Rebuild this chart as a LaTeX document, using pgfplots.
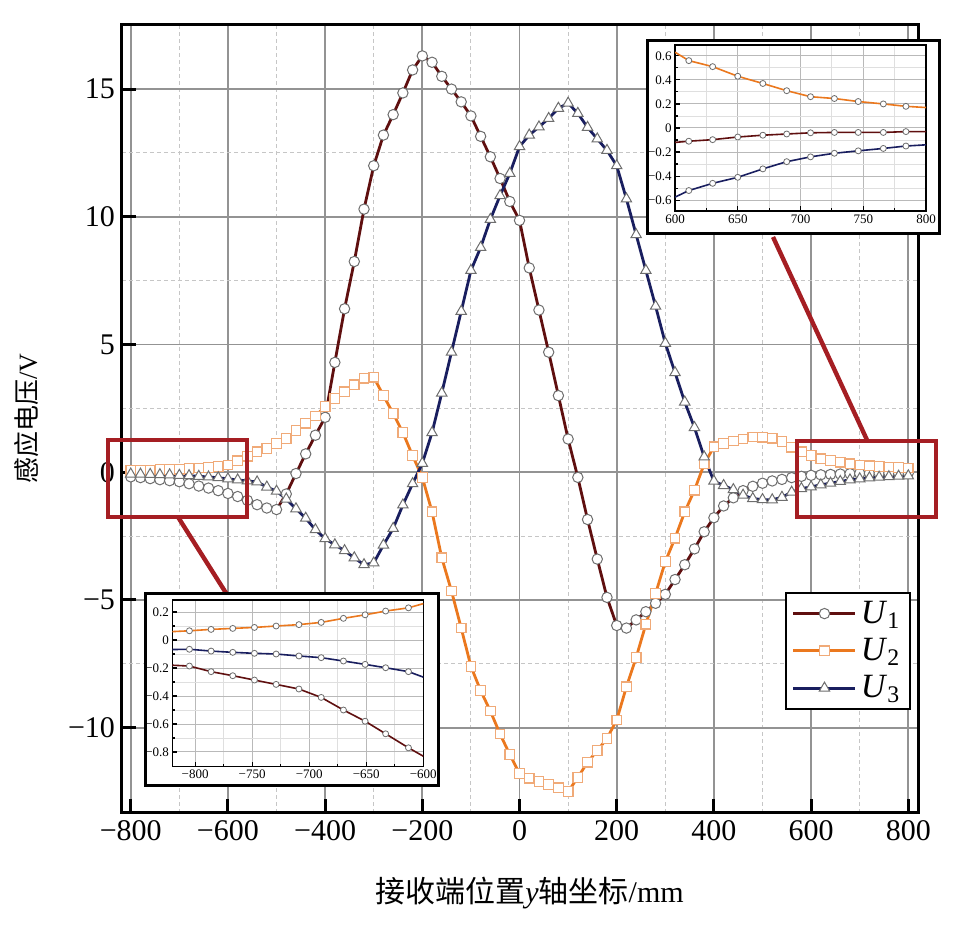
\documentclass[border=0pt]{standalone}
\usepackage{fontspec}
\setmainfont{Liberation Serif}
\newfontfamily\cjk{Noto Sans CJK SC}
\usepackage{pgfplots}
\usepackage{pgfplotstable}
\pgfplotsset{compat=1.18}

\definecolor{cUone}{RGB}{95,15,15}
\definecolor{cUtwo}{RGB}{235,120,30}
\definecolor{cUthree}{RGB}{25,30,95}
\definecolor{redbox}{RGB}{165,30,35}
\definecolor{mk}{RGB}{110,110,110}
\definecolor{mktwo}{RGB}{240,170,120}

\pgfplotstableread{
x u1 u2 u3
-800 -0.18 0.075 -0.07
-780 -0.21 0.08 -0.075
-760 -0.25 0.09 -0.085
-740 -0.29 0.10 -0.095
-720 -0.33 0.105 -0.10
-700 -0.37 0.12 -0.12
-680 -0.45 0.14 -0.135
-660 -0.54 0.165 -0.16
-640 -0.62 0.19 -0.185
-620 -0.72 0.225 -0.215
-600 -0.83 0.28 -0.26
-580 -0.95 0.45 -0.30
-560 -1.10 0.63 -0.34
-540 -1.27 0.80 -0.38
-520 -1.40 0.93 -0.58
-500 -1.46 1.13 -0.74
-480 -0.85 1.32 -1.05
-460 -0.05 1.63 -1.43
-440 0.72 1.92 -1.80
-420 1.45 2.20 -2.25
-400 2.15 2.57 -2.60
-380 4.30 2.88 -2.84
-360 6.40 3.15 -3.07
-340 8.25 3.42 -3.35
-320 10.30 3.68 -3.62
-300 12.00 3.72 -3.55
-280 13.20 3.00 -2.85
-260 14.00 2.30 -2.20
-240 14.85 1.55 -1.28
-220 15.75 0.65 -0.45
-200 16.30 -0.20 0.35
-180 16.05 -1.55 1.55
-160 15.50 -3.35 3.10
-140 15.00 -4.65 4.70
-120 14.50 -6.10 6.30
-100 13.95 -7.60 7.90
-80 13.15 -8.55 8.80
-60 12.35 -9.35 9.90
-40 11.50 -10.25 10.83
-20 10.60 -11.05 11.70
0 9.86 -11.80 12.75
20 8.00 -11.98 13.20
40 6.35 -12.10 13.52
60 4.70 -12.22 13.85
80 3.00 -12.35 14.25
100 1.30 -12.50 14.45
120 -0.20 -11.95 14.05
140 -1.85 -11.35 13.50
160 -3.40 -10.90 13.05
180 -4.90 -10.42 12.60
200 -6.00 -9.70 12.00
220 -6.10 -8.40 10.70
240 -5.78 -7.25 9.30
260 -5.46 -5.95 7.90
280 -5.13 -4.75 6.50
300 -4.78 -3.50 5.05
320 -4.20 -2.58 3.90
340 -3.62 -1.55 2.75
360 -3.00 -0.70 1.75
380 -2.33 0.32 0.60
400 -1.78 1.00 -0.35
420 -1.32 1.13 -0.52
440 -1.00 1.22 -0.68
460 -0.72 1.30 -0.90
480 -0.55 1.38 -1.03
500 -0.43 1.37 -1.07
520 -0.34 1.33 -1.08
540 -0.28 1.20 -0.98
560 -0.21 0.98 -0.78
580 -0.16 0.80 -0.64
600 -0.12 0.65 -0.575
620 -0.10 0.53 -0.49
640 -0.085 0.46 -0.43
660 -0.07 0.39 -0.36
680 -0.055 0.33 -0.30
700 -0.045 0.28 -0.255
720 -0.04 0.25 -0.22
740 -0.037 0.225 -0.195
760 -0.035 0.205 -0.175
780 -0.032 0.185 -0.155
800 -0.03 0.17 -0.14
}\maindata

\pgfplotstableread{
x u1 u2 u3
-820 -0.18 0.06 -0.068
-805 -0.186 0.066 -0.066
-786 -0.226 0.076 -0.079
-767 -0.255 0.083 -0.088
-748 -0.286 0.09 -0.095
-729 -0.317 0.10 -0.10
-709 -0.35 0.11 -0.114
-689.5 -0.41 0.126 -0.126
-670 -0.50 0.155 -0.15
-651 -0.58 0.18 -0.174
-633 -0.67 0.207 -0.198
-613 -0.77 0.23 -0.226
-600 -0.83 0.26 -0.265
}\leftdata

\pgfplotstableread{
x u1 u2 u3
600 -0.12 0.63 -0.575
611 -0.11 0.56 -0.52
630 -0.097 0.51 -0.46
650 -0.075 0.43 -0.41
670 -0.06 0.37 -0.34
689 -0.05 0.31 -0.28
708 -0.04 0.26 -0.24
727 -0.037 0.245 -0.21
746 -0.037 0.22 -0.19
766 -0.037 0.20 -0.17
784 -0.03 0.18 -0.15
800 -0.03 0.17 -0.14
}\rightdata

\pgfplotsset{
  insetstyle/.style={
    scale only axis,
    minor x tick num=1, minor y tick num=1,
    grid=both,
    major grid style={draw=gray!55, line width=0.5pt},
    minor grid style={draw=gray!25, line width=0.4pt},
    tick pos=left, tick align=inside,
    major tick length=2.5pt, minor tick length=1.5pt,
    tick style={black, line width=0.6pt},
    axis line style={black, line width=0.8pt},
    ticklabel style={font=\fontsize{6.5}{6.5}\selectfont, inner sep=1.5pt},
    every axis plot/.append style={line width=0.8pt, mark=*, mark size=1.5pt,
      mark options={fill=white, draw=mk, line width=0.4pt, solid}},
  }
}

\begin{document}
\begin{tikzpicture}
\begin{axis}[
  at={(0pt,0pt)}, anchor=south west,
  scale only axis, width=398pt, height=394pt,
  xmin=-818, xmax=820, ymin=-13.34, ymax=17.51,
  xtick={-800,-600,-400,-200,0,200,400,600,800},
  xticklabels={−800,−600,−400,−200,0,200,400,600,800},
  ytick={-10,-5,0,5,10,15},
  yticklabels={−10,−5,0,5,10,15},
  minor x tick num=1, minor y tick num=1,
  grid=both,
  major grid style={draw=gray!85, line width=0.9pt},
  minor grid style={draw=gray!45, line width=0.5pt, dash pattern=on 2pt off 1.5pt},
  tick pos=left, tick align=inside,
  major tick length=7pt, minor tick length=0pt,
  tick style={black, line width=1.5pt},
  axis line style={black, line width=1.5pt},
  ticklabel style={font=\fontsize{15}{15}\selectfont},
  xlabel={{\cjk 接收端位置}\textit{y}{\cjk 轴坐标}/mm},
  ylabel={{\cjk 感应电压}/V},
  xlabel style={at={(axis description cs:0.512,-0.1015)}, anchor=center, font=\fontsize{15}{15}\selectfont},
  ylabel style={at={(axis description cs:-0.1193,0.5)}, anchor=center, font=\fontsize{13}{13}\selectfont},
  legend style={at={(0.833,0.2805)}, anchor=north west, draw=black, line width=1pt, fill=white,
    font=\fontsize{17}{19}\selectfont, inner xsep=3pt, inner ysep=2pt, row sep=2pt},
  legend cell align=left,
  legend image code/.code={\draw[mark repeat=2,mark phase=2,#1] plot coordinates {(0pt,0pt) (15.5pt,0pt) (31pt,0pt)};},
]
\addplot[cUone, line width=1.4pt, mark=*, mark size=2.6pt, mark options={fill=white, draw=mk, line width=0.5pt, solid}] table[x=x, y=u1] {\maindata};
\addlegendentry{\textit{U}\textsubscript{1}}
\addplot[cUtwo, line width=1.4pt, mark=square*, mark size=2.4pt, mark options={fill=white, draw=mktwo, line width=0.6pt, solid}] table[x=x, y=u2] {\maindata};
\addlegendentry{\textit{U}\textsubscript{2}}
\addplot[cUthree, line width=1.4pt, mark=triangle*, mark size=3pt, mark options={fill=white, draw=mk, line width=0.5pt, solid}] table[x=x, y=u3] {\maindata};
\addlegendentry{\textit{U}\textsubscript{3}}
\end{axis}

% highlight boxes and connectors
\draw[redbox, line width=2.2pt] (-7pt,148pt) rectangle (62.5pt,186.5pt);
\draw[redbox, line width=2.2pt] (28pt,148pt) -- (52pt,110pt);
\draw[redbox, line width=2.2pt] (337.5pt,148pt) rectangle (407pt,186pt);
\draw[redbox, line width=2.2pt] (325.5pt,288pt) -- (372.5pt,186.5pt);

% inset frames
\draw[fill=white, line width=1.5pt] (11.5pt,13.5pt) rectangle (158.2pt,109.8pt);
\draw[fill=white, line width=1.5pt] (262.8pt,289.8pt) rectangle (408.7pt,386.2pt);

% left inset
\begin{axis}[
  insetstyle,
  at={(25.15pt,23.15pt)}, anchor=south west,
  width=125.5pt, height=83.35pt,
  xmin=-820, xmax=-600, ymin=-0.905, ymax=0.286,
  xtick={-800,-750,-700,-650,-600},
  xticklabels={−800,−750,−700,−650,−600},
  ytick={-0.8,-0.6,-0.4,-0.2,0,0.2},
  yticklabels={−0.8,−0.6,−0.4,−0.2,0,0.2},
]
\addplot[cUone, mark indices={2,3,4,5,6,7,8,9,10,11,12}] table[x=x, y=u1] {\leftdata};
\addplot[cUtwo, mark indices={2,3,4,5,6,7,8,9,10,11,12}] table[x=x, y=u2] {\leftdata};
\addplot[cUthree, mark indices={2,3,4,5,6,7,8,9,10,11,12}] table[x=x, y=u3] {\leftdata};
\end{axis}

% right inset
\begin{axis}[
  insetstyle,
  at={(276.5pt,301pt)}, anchor=south west,
  width=125.5pt, height=83pt,
  xmin=600, xmax=800, ymin=-0.69, ymax=0.69,
  xtick={600,650,700,750,800},
  xticklabels={600,650,700,750,800},
  ytick={-0.6,-0.4,-0.2,0,0.2,0.4,0.6},
  yticklabels={−0.6,−0.4,−0.2,0,0.2,0.4,0.6},
]
\addplot[cUone, mark indices={2,3,4,5,6,7,8,9,10,11}] table[x=x, y=u1] {\rightdata};
\addplot[cUtwo, mark indices={2,3,4,5,6,7,8,9,10,11}] table[x=x, y=u2] {\rightdata};
\addplot[cUthree, mark indices={2,3,4,5,6,7,8,9,10,11}] table[x=x, y=u3] {\rightdata};
\end{axis}

\pgfresetboundingbox
\path (-61pt,-61pt) rectangle (425.5pt,406.5pt);
\end{tikzpicture}
\end{document}
